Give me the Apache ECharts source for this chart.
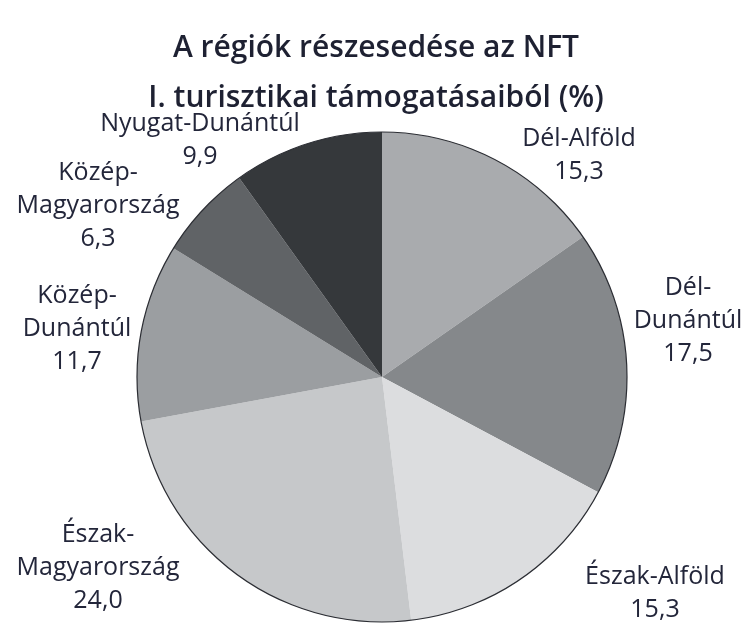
<!DOCTYPE html>
<html>
<head>
<meta charset="utf-8">
<script src="https://cdn.jsdelivr.net/npm/echarts@6/dist/echarts.min.js"></script>
<style>
html,body{margin:0;padding:0;background:#fff;}
#chart{width:752px;height:624px;}
</style>
</head>
<body>
<div id="chart"></div>
<script>
const titleLines = ['A régiók részesedése az NFT', 'I. turisztikai támogatásaiból (%)'];
const regions = ['Dél-Alföld', 'Dél-Dunántúl', 'Észak-Alföld', 'Észak-Magyarország', 'Közép-Dunántúl', 'Közép-Magyarország', 'Nyugat-Dunántúl'];
const labelTexts = ['Dél-Alföld', 'Dél-\nDunántúl', 'Észak-Alföld', 'Észak-\nMagyarország', 'Közép-\nDunántúl', 'Közép-\nMagyarország', 'Nyugat-Dunántúl'];
const shares = [15.3, 17.5, 15.3, 24.0, 11.7, 6.3, 9.9];

const sliceColors = ['#a9abae', '#85888b', '#dcdddf', '#c6c8ca', '#9b9ea1', '#606366', '#35383b'];
const labelPos = [[579, 155], [688, 321], [655, 593], [98, 568], [77, 329], [98, 206], [200, 140]];

const chart = echarts.init(document.getElementById('chart'));
const fontFamily = '"Open Sans", "Noto Sans", sans-serif';
chart.setOption({
  backgroundColor: '#ffffff',
  animation: false,
  title: {
    text: titleLines.join('\n'),
    left: 'center',
    top: 18,
    textStyle: {fontFamily, fontSize: 30, fontWeight: 600, color: '#1e2132', lineHeight: 50}
  },
  series: [{
    type: 'pie',
    center: [382, 377],
    radius: [0, 245],
    startAngle: 90,
    clockwise: true,
    avoidLabelOverlap: false,
    silent: true,
    itemStyle: {borderWidth: 0},
    label: {
      show: true,
      position: 'outside',
      fontFamily, fontSize: 25, color: '#23263a', lineHeight: 33,
      align: 'center',
      formatter: p => labelTexts[p.dataIndex] + '\n' + p.value.toFixed(1).replace('.', ',')
    },
    labelLine: {show: false},
    labelLayout: p => ({x: labelPos[p.dataIndex][0], y: labelPos[p.dataIndex][1], align: 'center', verticalAlign: 'middle'}),
    data: regions.map((n, i) => ({name: n, value: shares[i], itemStyle: {color: sliceColors[i]}}))
  }, {
    type: 'pie',
    center: [382, 377],
    radius: [0, 245],
    silent: true,
    label: {show: false},
    labelLine: {show: false},
    itemStyle: {color: 'rgba(0,0,0,0)', borderColor: '#2b2d33', borderWidth: 1.2},
    data: [{name: 'outline', value: shares.reduce((a, b) => a + b, 0)}]
  }]
});
</script>
</body>
</html>
